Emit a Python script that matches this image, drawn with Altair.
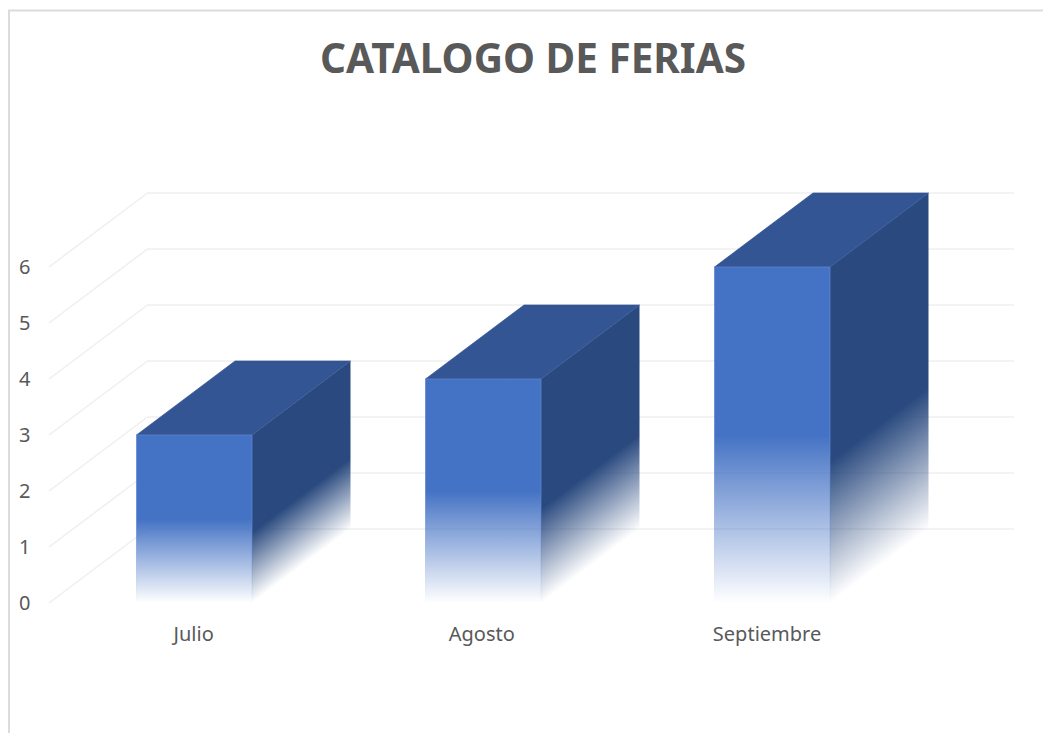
import altair as alt
import pandas as pd

# ---- data ----
categories = ["Julio", "Agosto", "Septiembre"]
values = [3, 4, 6]
y_ticks = [0, 1, 2, 3, 4, 5, 6]
title_text = "CATALOGO DE FERIAS"

# ---- layout (pseudo 3-D box geometry, in scale units) ----
STEP = 289.0                # px per category
UNIT = 56.0                 # px per value unit
PLOT_W, PLOT_H = 965, 410
X_MIN = (49 - 194.25) / STEP
X_MAX = (1014 - 194.25) / STEP
Y_MAX = PLOT_H / UNIT
DX = 98.5 / STEP            # depth in category units
DY = 74 / UNIT              # depth in value units
HALF = 57.75 / STEP         # half bar width
label_pos = [-0.002, 0.995, 1.982]

FONT = "Noto Sans"
TEXT = "#595959"
GRID = "#EFEFEF"
FRONT, TOP, SIDE = "#4472C4", "#335593", "#2A4A7F"
EDGE = "#5F86D0"

xs = alt.Scale(domain=[X_MIN, X_MAX], nice=False, zero=False)
ys = alt.Scale(domain=[0, Y_MAX], nice=False, zero=False)
X = lambda f: alt.X(f, type="quantitative", scale=xs, axis=None, stack=None)
Y = lambda f: alt.Y(f, type="quantitative", scale=ys, axis=None, stack=None)


def transparent(hex_color):
    r, g, b = (int(hex_color[i:i + 2], 16) for i in (1, 3, 5))
    return f"rgba({r},{g},{b},0)"


def fade(color):
    return alt.Gradient(
        gradient="linear", x1=0, y1=0, x2=0, y2=1,
        stops=[alt.GradientStop(offset=0, color=color),
               alt.GradientStop(offset=0.5, color=color),
               alt.GradientStop(offset=1, color=transparent(color))])


# frame (left and top edges only)
frame = alt.Chart(pd.DataFrame({"k": [0]})).mark_rule(color="#DCDCDC", strokeWidth=2)
frame_left = frame.encode(x=alt.value(-40), y=alt.value(-182.5), y2=alt.value(540))
frame_top = frame.encode(x=alt.value(-41), x2=alt.value(1002), y=alt.value(-182.5))

# floor-to-back wall gridlines
grid_df = pd.DataFrame({"v": y_ticks})
grid_df["v_back"] = grid_df.v + DY
grid_df["x0"] = X_MIN
grid_df["x1"] = X_MIN + DX
grid_df["x2"] = X_MAX
grid_back = alt.Chart(grid_df).mark_rule(color=GRID, strokeWidth=1.5).encode(
    x=X("x1"), x2="x2:Q", y=Y("v_back"))
grid_wall = alt.Chart(grid_df).mark_rule(color=GRID, strokeWidth=1.5).encode(
    x=X("x0"), x2="x1:Q", y=Y("v"), y2="v_back:Q")

# invisible layer that carries the real y axis
axis_layer = alt.Chart(grid_df).mark_point(opacity=0).encode(
    x=X("x0"),
    y=alt.Y("v:Q", scale=ys, axis=alt.Axis(
        values=y_ticks, title=None, domain=False, ticks=False, grid=False,
        labelFont=FONT, labelFontSize=20, labelColor=TEXT, labelPadding=19,
        labelOffset=0, format="d")),
)

layers = [grid_back, grid_wall, axis_layer, frame_left, frame_top]

for i, (cat, val) in enumerate(zip(categories, values)):
    left, right = i - HALF, i + HALF

    # side face, its fade parallel to the bottom edge
    side_df = pd.DataFrame({
        "x": [right, right + DX],
        "ya": [val, val + DY],
        "yb": [0, DY],
    })
    a = DY / (val + DY)                 # slope of the edge in the face's box
    d = 0.42 * val / (val + DY)         # fade length in the face's box
    length = d / (a * a + 1)
    side_fill = alt.Gradient(
        gradient="linear",
        x1=-length * a, y1=1 - length, x2=0, y2=1,
        stops=[alt.GradientStop(offset=0, color=SIDE),
               alt.GradientStop(offset=1, color=transparent(SIDE))])
    layers.append(alt.Chart(side_df).mark_area(
        orient="vertical", fill=side_fill).encode(
        x=X("x"), y=Y("ya"), y2="yb:Q"))

    # top face
    top_df = pd.DataFrame({
        "y": [val, val + DY],
        "xa": [left, left + DX],
        "xb": [right, right + DX],
    })
    layers.append(alt.Chart(top_df).mark_area(
        orient="horizontal", fill=TOP, stroke=TOP, strokeWidth=0.7).encode(
        y=Y("y"), x=X("xa"), x2="xb:Q"))

    # front face
    front_df = pd.DataFrame({"a": [left], "b": [right], "v": [val], "z": [0]})
    layers.append(alt.Chart(front_df).mark_rect(
        fill=fade(FRONT), stroke=fade(EDGE), strokeWidth=0.75).encode(
        x=X("a"), x2="b:Q", y=Y("v"), y2="z:Q"))

# category labels
label_df = pd.DataFrame({"cat": categories, "pos": label_pos})
layers.append(alt.Chart(label_df).mark_text(
    font=FONT, fontSize=20, color=TEXT, baseline="middle", align="center").encode(
    x=X("pos"), y=alt.value(PLOT_H + 32), text="cat:N"))

chart = alt.layer(*layers).resolve_axis(y="independent").properties(
    width=PLOT_W, height=PLOT_H,
    title=alt.TitleParams(
        text=title_text, font=FONT, fontSize=40.5, fontWeight="bold", color=TEXT,
        anchor="middle", dx=1.5, offset=-72),
    autosize=alt.AutoSizeParams(type="none"),
    padding={"left": 41, "top": 185, "right": 29, "bottom": 130},
    background="white",
).configure_view(stroke=None)

chart.save("out.html", embed_options={"renderer": "svg", "actions": False})
